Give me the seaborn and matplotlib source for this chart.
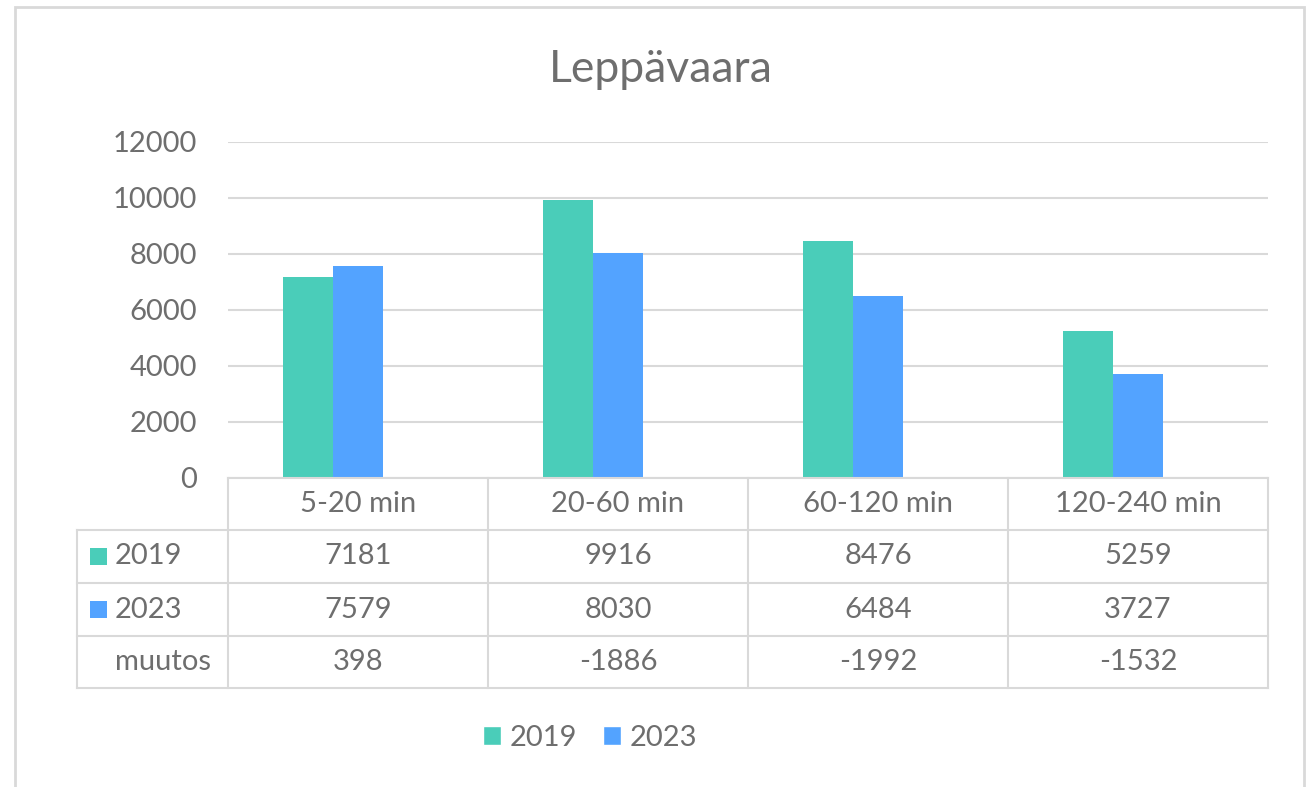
import numpy as np
import pandas as pd
import matplotlib
matplotlib.use('Agg')
import matplotlib.pyplot as plt
import matplotlib.transforms as mtransforms
from matplotlib.patches import Rectangle, Patch
import seaborn as sns

# Data
categories = ['5-20 min', '20-60 min', '60-120 min', '120-240 min']
series = ['2019', '2023', 'muutos']
values_2019 = [7181, 9916, 8476, 5259]
values_2023 = [7579, 8030, 6484, 3727]
values_muutos = [398, -1886, -1992, -1532]
y_ticks = [0, 2000, 4000, 6000, 8000, 10000, 12000]

# Colours
TEAL = '#4ACDB9'
BLUE = '#53A3FF'
GRID = '#D9D9D9'
TEXT = '#6E6E6E'

df = pd.DataFrame({
    'aika': categories * 3,
    'sarja': [s for s in series for _ in categories],
    'arvo': values_2019 + values_2023 + values_muutos,
})

sns.set_theme(style='white')
plt.rcParams['font.family'] = ['Lato', 'DejaVu Sans']
FS = 21

W, H = 1309, 787
fig = plt.figure(figsize=(W / 100, H / 100), dpi=100)
ax = fig.add_axes([228 / W, 309 / H, 1040 / W, 336 / H])

sns.barplot(data=df, x='aika', y='arvo', hue='sarja', hue_order=series,
            palette={'2019': TEAL, '2023': BLUE, 'muutos': 'white'},
            width=150 / 260, gap=0, saturation=1, errorbar=None,
            linewidth=0, legend=False, ax=ax)

# muutos is a series with no fill (only shown in the table)
for patch in ax.containers[2]:
    patch.set_visible(False)

ax.set_xlim(-0.5, len(categories) - 0.5)
ax.set_ylim(0, 12000)
ax.set_yticks(y_ticks)
ax.set_yticklabels([str(t) for t in y_ticks], color=TEXT, fontsize=FS)
ax.set_xticks([])
ax.set_xlabel('')
ax.set_ylabel('')
ax.tick_params(axis='y', length=0, pad=22)
ax.yaxis.grid(True, color=GRID, lw=1.5)
ax.set_axisbelow(True)
for sp in ax.spines.values():
    sp.set_visible(False)

# Data table under the plot
trans = mtransforms.blended_transform_factory(ax.transData, ax.transAxes)
rows_y = [0, -52 / 336, -105 / 336, -158 / 336, -210 / 336]
x_left = -0.5 - 151 / 260
x_right = len(categories) - 0.5
line_kw = dict(color=GRID, lw=1.5, transform=trans, clip_on=False,
               solid_capstyle='projecting')

ax.plot([-0.5, x_right], [0, 0], **line_kw)
for y in rows_y[1:]:
    ax.plot([x_left, x_right], [y, y], **line_kw)
for i in range(len(categories) + 1):
    ax.plot([i - 0.5, i - 0.5], [0, rows_y[-1]], **line_kw)
ax.plot([x_left, x_left], [rows_y[1], rows_y[-1]], **line_kw)

def row_mid(r):
    return (rows_y[r] + rows_y[r + 1]) / 2

for i, cat in enumerate(categories):
    ax.text(i, row_mid(0), cat, ha='center', va='center', fontsize=FS,
            color=TEXT, transform=trans)

table_rows = [values_2019, values_2023, values_muutos]
key_colors = [TEAL, BLUE, None]
for r, (name, vals, kc) in enumerate(zip(series, table_rows, key_colors), start=1):
    ym = row_mid(r)
    if kc is not None:
        ax.add_patch(Rectangle((-0.5 - 138 / 260, ym - 8.5 / 336), 17 / 260, 17 / 336,
                               facecolor=kc, edgecolor='none', transform=trans,
                               clip_on=False))
    ax.text(-0.5 - 113 / 260, ym, name, ha='left', va='center', fontsize=FS,
            color=TEXT, transform=trans)
    for i, v in enumerate(vals):
        ax.text(i, ym, str(v), ha='center', va='center', fontsize=FS,
                color=TEXT, transform=trans)

# Title
fig.text(661 / W, 1 - 70 / H, 'Leppävaara', ha='center', va='center',
         fontsize=32, color=TEXT)

# Legend
handles = [Patch(facecolor=TEAL, label='2019'), Patch(facecolor=BLUE, label='2023')]
leg = fig.legend(handles=handles, loc='center', bbox_to_anchor=(590 / W, 1 - 738 / H),
                 ncol=2, frameon=False, fontsize=FS, handlelength=0.6,
                 handleheight=0.6, handletextpad=0.3, columnspacing=0.9)
for t in leg.get_texts():
    t.set_color(TEXT)

# Chart area border
fig.patches.append(Rectangle((15 / W, -0.02), 1289 / W, 1.02 - 7 / H, fill=False,
                             edgecolor=GRID, lw=2, transform=fig.transFigure))

fig.savefig('out.png', dpi=100)
